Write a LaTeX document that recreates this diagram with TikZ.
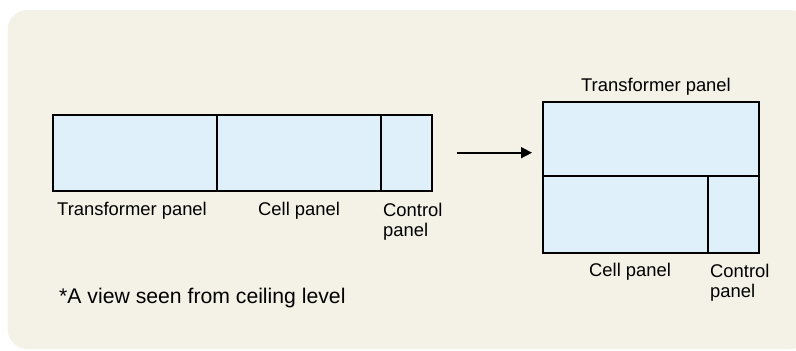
\documentclass[tikz,border=0pt]{standalone}
\usepackage{fontspec}
\setmainfont{Liberation Sans}
\usetikzlibrary{arrows.meta}
\definecolor{bgbeige}{HTML}{F4F1E6}
\definecolor{panelblue}{HTML}{DFF0FA}
\tikzset{
  panelbox/.style={draw=black, fill=panelblue, line width=2pt},
  divider/.style={draw=black, line width=2pt},
  lbl/.style={font=\fontsize{18.4}{21}\selectfont, inner sep=0pt, align=left},
  foot/.style={font=\fontsize{21.2}{25}\selectfont, inner sep=0pt},
  conn/.style={-{Triangle[length=11pt,width=11pt]}, line width=1.6pt}
}
\begin{document}
\begin{tikzpicture}[x=1pt,y=-1pt]
\useasboundingbox (0,0) rectangle (796,351);
\fill[bgbeige, rounded corners=20pt] (7.5,10) rectangle (810,349);
% left arrangement
\draw[panelbox] (53.3,115) rectangle (431.7,190.5);
\draw[divider] (216.7,115) -- (216.7,190.5);
\draw[divider] (381,115) -- (381,190.5);
\node[lbl, anchor=west] (lt) at (57,211) {Transformer panel};
\node[lbl, anchor=west] (lc) at (258,211) {Cell panel};
\node[lbl, anchor=north west] (lk) at (383,203) {Control\\[-1pt]panel};
% right arrangement
\draw[panelbox] (543.3,101.7) rectangle (759.3,253.3);
\draw[divider] (543.3,175.7) -- (759.3,175.7);
\draw[divider] (707.7,175.7) -- (707.7,253.3);
\node[lbl] (rt) at (656,87) {Transformer panel};
\node[lbl, anchor=west] (rc) at (589,272) {Cell panel};
\node[lbl, anchor=north west] (rk) at (710,264) {Control\\[-1pt]panel};
% arrow
\coordinate (a1) at (456.7,152.7);
\coordinate (a2) at (532,152.7);
\draw[conn] (a1) -- (a2);
% footnote
\node[foot, anchor=west] (fn) at (59,298) {*A view seen from ceiling level};
\end{tikzpicture}
\end{document}
